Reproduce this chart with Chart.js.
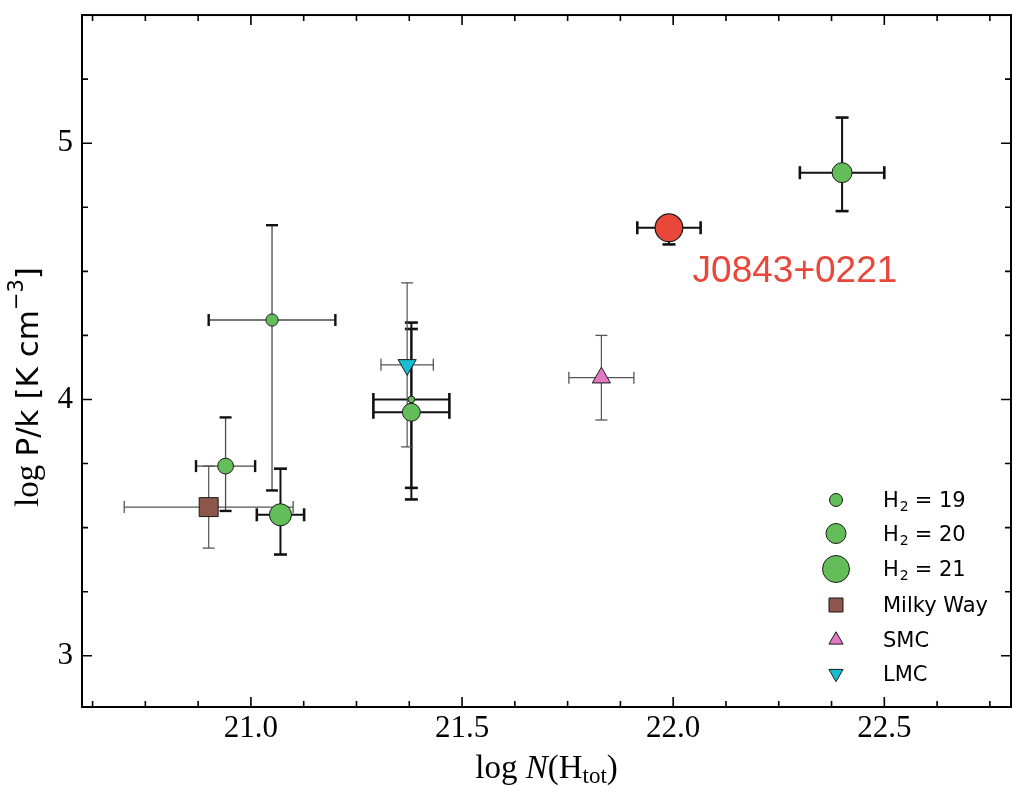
<!DOCTYPE html>
<html>
<head>
<meta charset="utf-8">
<script src="https://cdn.jsdelivr.net/npm/chart.js@4.4.1/dist/chart.umd.min.js"></script>
<style>
    html, body { margin: 0; padding: 0; background: #fff; }
    #wrap { width: 1030px; height: 803px; }
</style>
</head>
<body>
<div id="wrap"><canvas id="chart" width="1030" height="803"></canvas></div>
<script>
// H2 absorbers (green circles), sized by log N(H2)
const h2X = [21.05, 20.94, 21.07, 21.38, 21.38, 22.40];
const h2Y = [4.31, 3.74, 3.55, 4.00, 3.95, 4.885];
const h2Xerr = [0.15, 0.07, 0.056, 0.09, 0.09, 0.10];
const h2YerrUp = [0.37, 0.19, 0.18, 0.30, 0.325, 0.215];
const h2YerrDn = [0.665, 0.175, 0.155, 0.345, 0.34, 0.15];
const h2LogN = [18.9, 19.4, 20.3, 18.1, 19.7, 20.0];
const h2Sample = ['a', 'a', 'b', 'b', 'b', 'b'];

// J0843+0221
const qsoX = [21.99];
const qsoY = [4.67];
const qsoXerr = [0.075];
const qsoYerrUp = [0.04];
const qsoYerrDn = [0.065];
const qsoLogN = [21.1];

// Local galaxies
const mwX = [20.90], mwY = [3.58], mwXerr = [0.2], mwYerr = [0.16];
const smcX = [21.83], smcY = [4.085], smcXerr = [0.077], smcYerr = [0.165];
const lmcX = [21.37], lmcY = [4.135], lmcXerr = [0.062], lmcYerr = [0.32];

// Axes
const xRange = [20.6, 22.8];
const yRange = [2.8, 5.5];
const xMajor = [21.0, 21.5, 22.0, 22.5];
const yMajor = [3, 4, 5];
const xMinorStep = 0.125;
const yMinorStep = 0.25;

const legendLogN = [19, 20, 21];
const annoX = 22.046, annoY = 4.457;

const SERIF = '"Liberation Serif", "DejaVu Serif", serif';
const SANS = '"DejaVu Sans", "Liberation Sans", sans-serif';
const GREEN = '#63be5a';
const RED = '#e8473a';

const radiusFor = v => 6.5 + 3.5 * (v - 19);

function pick(arr, idx) { return idx.map(i => arr[i]); }
const idxA = h2Sample.map((s, i) => s === 'a' ? i : -1).filter(i => i >= 0);
const idxB = h2Sample.map((s, i) => s === 'b' ? i : -1).filter(i => i >= 0);

function points(xs, ys) { return xs.map((x, i) => ({ x: x, y: ys[i] })); }

function h2Dataset(idx, thin) {
    return {
        label: 'H2',
        data: points(pick(h2X, idx), pick(h2Y, idx)),
        pointRadius: pick(h2LogN, idx).map(radiusFor),
        pointBackgroundColor: GREEN,
        pointBorderColor: '#1a1a1a',
        pointBorderWidth: 1,
        errors: { x: pick(h2Xerr, idx), up: pick(h2YerrUp, idx), dn: pick(h2YerrDn, idx) },
        errStyle: thin
            ? { color: '#4a4a4a', width: 1.3, capColor: '#111', capWidth: 2.4, cap: 6 }
            : { color: '#111', width: 2, capColor: '#111', capWidth: 2.6, cap: 6.5 }
    };
}

const thinStyle = { color: '#555', width: 1.2, capColor: '#555', capWidth: 1.3, cap: 6 };

const datasets = [
    {
        label: 'J0843+0221',
        data: points(qsoX, qsoY),
        pointRadius: qsoLogN.map(radiusFor),
        pointBackgroundColor: RED,
        pointBorderColor: '#1a1a1a',
        pointBorderWidth: 1.2,
        errors: { x: qsoXerr, up: qsoYerrUp, dn: qsoYerrDn },
        errStyle: { color: '#111', width: 2, capColor: '#111', capWidth: 2.6, cap: 6.5 }
    },
    {
        label: 'Milky Way',
        data: points(mwX, mwY),
        pointStyle: 'rect',
        pointRadius: 13.4,
        pointBackgroundColor: '#8c564b',
        pointBorderColor: '#1a1a1a',
        pointBorderWidth: 1,
        errors: { x: mwXerr, up: mwYerr, dn: mwYerr },
        errStyle: thinStyle
    },
    {
        label: 'SMC',
        data: points(smcX, smcY),
        pointStyle: 'triangle',
        pointRadius: 10.5,
        pointBackgroundColor: '#e377c2',
        pointBorderColor: '#1a1a1a',
        pointBorderWidth: 1,
        errors: { x: smcXerr, up: smcYerr, dn: smcYerr },
        errStyle: thinStyle
    },
    {
        label: 'LMC',
        data: points(lmcX, lmcY),
        pointStyle: 'triangle',
        rotation: 180,
        pointRadius: 10.5,
        pointBackgroundColor: '#17becf',
        pointBorderColor: '#1a1a1a',
        pointBorderWidth: 1,
        errors: { x: lmcXerr, up: lmcYerr, dn: lmcYerr },
        errStyle: thinStyle
    },
    h2Dataset(idxB, false),
    h2Dataset(idxA, true)
];

// Error bars under the markers
const errorBars = {
    id: 'errorBars',
    beforeDatasetsDraw(chart) {
        const { ctx, chartArea: a, scales: { x, y } } = chart;
        ctx.save();
        ctx.beginPath();
        ctx.rect(a.left, a.top, a.right - a.left, a.bottom - a.top);
        ctx.clip();
        const seg = (x0, y0, x1, y1) => {
            ctx.beginPath(); ctx.moveTo(x0, y0); ctx.lineTo(x1, y1); ctx.stroke();
        };
        chart.data.datasets.slice().reverse().forEach(ds => {
            const e = ds.errors, s = ds.errStyle;
            if (!e) return;
            ds.data.forEach((p, i) => {
                const px = x.getPixelForValue(p.x), py = y.getPixelForValue(p.y);
                const xl = x.getPixelForValue(p.x - e.x[i]), xr = x.getPixelForValue(p.x + e.x[i]);
                const yb = y.getPixelForValue(p.y - e.dn[i]), yt = y.getPixelForValue(p.y + e.up[i]);
                ctx.strokeStyle = s.color; ctx.lineWidth = s.width;
                seg(xl, py, xr, py);
                seg(px, yb, px, yt);
                ctx.strokeStyle = s.capColor; ctx.lineWidth = s.capWidth;
                seg(xl, py - s.cap, xl, py + s.cap);
                seg(xr, py - s.cap, xr, py + s.cap);
                seg(px - s.cap, yt, px + s.cap, yt);
                seg(px - s.cap, yb, px + s.cap, yb);
            });
        });
        ctx.restore();
    }
};

// Frame with inward ticks on all four sides
const frame = {
    id: 'frame',
    afterDatasetsDraw(chart) {
        const { ctx, chartArea: a, scales: { x, y } } = chart;
        ctx.save();
        ctx.strokeStyle = '#000';
        ctx.lineWidth = 1.6;
        const tick = (px, len, vertical) => {
            ctx.beginPath();
            if (vertical) {
                ctx.moveTo(px, a.bottom); ctx.lineTo(px, a.bottom - len);
                ctx.moveTo(px, a.top); ctx.lineTo(px, a.top + len);
            } else {
                ctx.moveTo(a.left, px); ctx.lineTo(a.left + len, px);
                ctx.moveTo(a.right, px); ctx.lineTo(a.right - len, px);
            }
            ctx.stroke();
        };
        for (let v = Math.ceil(xRange[0] / xMinorStep) * xMinorStep; v <= xRange[1] + 1e-9; v += xMinorStep) {
            const major = xMajor.some(m => Math.abs(m - v) < 1e-6);
            if (v > xRange[0] + 1e-6 && v < xRange[1] - 1e-6) tick(x.getPixelForValue(v), major ? 10 : 6, true);
        }
        for (let v = Math.ceil(yRange[0] / yMinorStep) * yMinorStep; v <= yRange[1] + 1e-9; v += yMinorStep) {
            const major = yMajor.some(m => Math.abs(m - v) < 1e-6);
            if (v > yRange[0] + 1e-6 && v < yRange[1] - 1e-6) tick(y.getPixelForValue(v), major ? 10 : 6, false);
        }
        ctx.lineWidth = 2;
        ctx.strokeRect(a.left, a.top, a.right - a.left, a.bottom - a.top);
        ctx.restore();
    }
};

function drawParts(ctx, parts, cx, baseline) {
    let w = 0;
    parts.forEach(p => { ctx.font = p.f; p.w = ctx.measureText(p.t).width; w += p.w; });
    let xx = cx - w / 2;
    parts.forEach(p => {
        ctx.font = p.f;
        ctx.fillText(p.t, xx, baseline + (p.dy || 0));
        xx += p.w;
    });
}

// Axis titles, annotation and legend
const labels = {
    id: 'labels',
    afterDraw(chart) {
        const { ctx, chartArea: a, scales: { x, y } } = chart;
        ctx.save();
        ctx.fillStyle = '#000';
        ctx.textBaseline = 'alphabetic';
        ctx.textAlign = 'left';

        drawParts(ctx, [
            { t: 'log ', f: '33px ' + SERIF },
            { t: 'N', f: 'italic 33px ' + SERIF },
            { t: '(H', f: '33px ' + SERIF },
            { t: 'tot', f: '23px ' + SERIF, dy: 5 },
            { t: ')', f: '33px ' + SERIF }
        ], (a.left + a.right) / 2, 778);

        ctx.save();
        ctx.translate(38, 387);
        ctx.rotate(-Math.PI / 2);
        drawParts(ctx, [
            { t: 'log ', f: '33px ' + SERIF },
            { t: 'P/k [K cm', f: '31px ' + SANS },
            { t: '\u22123', f: '21px ' + SANS, dy: -15 },
            { t: ']', f: '31px ' + SANS }
        ], 0, 0);
        ctx.restore();

        // annotation
        ctx.fillStyle = RED;
        ctx.font = '37px "Liberation Sans", Arial, sans-serif';
        ctx.fillText('J0843+0221', x.getPixelForValue(annoX), y.getPixelForValue(annoY));

        // legend
        const lx = 836, tx = 883;
        const rows = [500, 533.5, 569, 605, 640, 673.5];
        const entries = [
            { style: 'circle', r: radiusFor(legendLogN[0]), fill: GREEN, h2: legendLogN[0] },
            { style: 'circle', r: radiusFor(legendLogN[1]), fill: GREEN, h2: legendLogN[1] },
            { style: 'circle', r: radiusFor(legendLogN[2]), fill: GREEN, h2: legendLogN[2] },
            { style: 'rect', r: 9.9, fill: '#8c564b', text: 'Milky Way' },
            { style: 'triangle', r: 8.2, fill: '#e377c2', text: 'SMC' },
            { style: 'triangle', r: 8.2, rot: 180, fill: '#17becf', text: 'LMC' }
        ];
        entries.forEach((en, i) => {
            ctx.fillStyle = en.fill;
            ctx.strokeStyle = '#1a1a1a';
            ctx.lineWidth = 1;
            Chart.helpers.drawPoint(ctx, { pointStyle: en.style, radius: en.r, rotation: en.rot || 0, borderWidth: 1 }, lx, rows[i]);
            ctx.fillStyle = '#000';
            const base = rows[i] + 7;
            if (en.h2 !== undefined) {
                ctx.font = '21px ' + SANS;
                ctx.fillText('H', tx, base);
                let xx = tx + ctx.measureText('H').width + 1;
                ctx.font = '14px ' + SANS;
                ctx.fillText('2', xx, base + 4);
                xx += ctx.measureText('2').width + 6;
                ctx.font = '21px ' + SANS;
                ctx.fillText('= ' + en.h2, xx, base);
            } else {
                ctx.font = '21px ' + SANS;
                ctx.fillText(en.text, tx, base);
            }
        });
        ctx.restore();
    }
};

new Chart(document.getElementById('chart'), {
    type: 'scatter',
    data: { datasets: datasets },
    options: {
        responsive: false,
        animation: false,
        devicePixelRatio: 1,
        layout: { padding: { top: 15, right: 19, left: 0, bottom: 0 } },
        plugins: { legend: { display: false }, tooltip: { enabled: false } },
        scales: {
            x: {
                type: 'linear', min: xRange[0], max: xRange[1],
                grid: { display: false, drawTicks: false },
                border: { display: false },
                afterBuildTicks: s => { s.ticks = xMajor.map(v => ({ value: v })); },
                afterFit: s => { s.height = 96; s.paddingLeft = 0; s.paddingRight = 0; },
                ticks: {
                    color: '#000', padding: 3, maxRotation: 0, autoSkip: false,
                    font: { family: SERIF, size: 31 },
                    callback: v => Number(v).toFixed(1)
                }
            },
            y: {
                type: 'linear', min: yRange[0], max: yRange[1],
                grid: { display: false, drawTicks: false },
                border: { display: false },
                afterBuildTicks: s => { s.ticks = yMajor.map(v => ({ value: v })); },
                afterFit: s => { s.width = 82; s.paddingTop = 0; s.paddingBottom = 0; },
                ticks: {
                    color: '#000', padding: 9, autoSkip: false,
                    font: { family: SERIF, size: 31 },
                    callback: v => String(v)
                }
            }
        }
    },
    plugins: [errorBars, frame, labels]
});
</script>
</body>
</html>
